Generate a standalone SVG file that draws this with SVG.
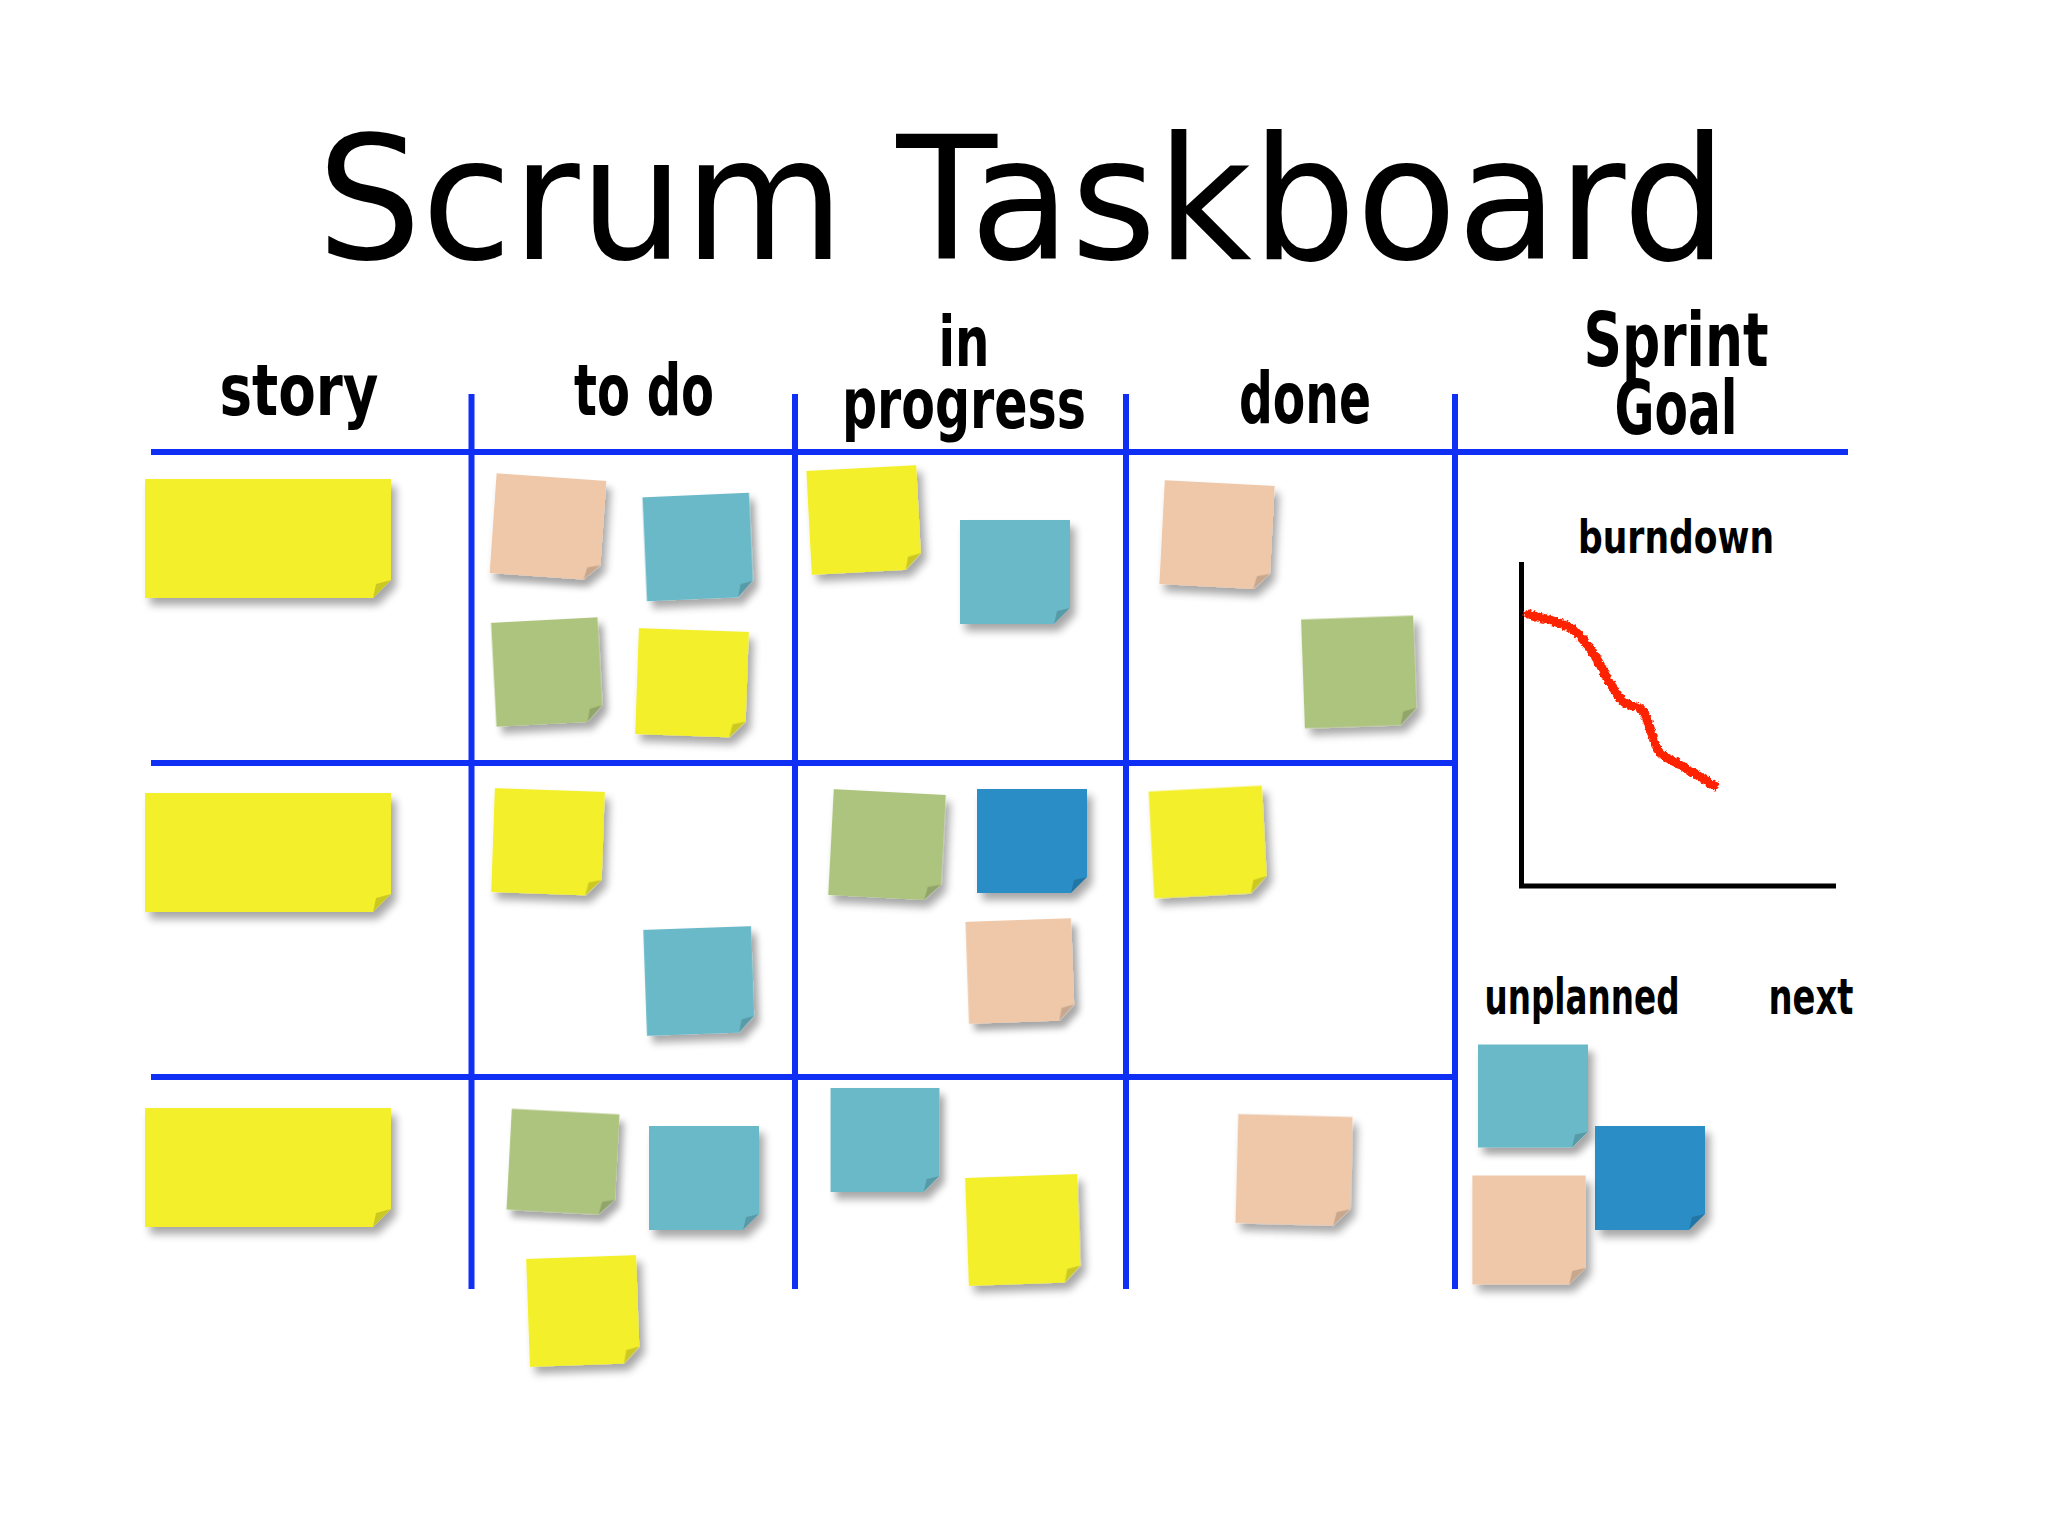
<svg xmlns="http://www.w3.org/2000/svg" xmlns:xlink="http://www.w3.org/1999/xlink" width="2048" height="1536" viewBox="0 0 2048 1536">
<style>
.title{font-family:"DejaVu Sans","Liberation Sans",sans-serif;font-size:172px;fill:#000}
.hand{font-family:"DejaVu Sans Condensed","DejaVu Sans",sans-serif;font-weight:bold;fill:#000;text-anchor:middle}
.grid line{stroke:#0f2ff5;stroke-width:6;stroke-linecap:butt}
.axis{stroke:#000;stroke-width:5;fill:none}
.note{filter:url(#sh)}
.y{fill:#f3ef2c}.pe{fill:#efc8a9}.te{fill:#6bb9c9}.gr{fill:#adc47e}.db{fill:#2a8dc6}
.curl{fill:#000;fill-opacity:0.16}
</style>
<defs>
<filter id="sh" x="-20%" y="-20%" width="150%" height="150%">
<feGaussianBlur in="SourceAlpha" stdDeviation="4"/>
<feOffset dx="5" dy="7" result="b"/>
<feComponentTransfer><feFuncA type="linear" slope="0.35"/></feComponentTransfer>
<feMerge><feMergeNode/><feMergeNode in="SourceGraphic"/></feMerge>
</filter>
<filter id="rough" x="-10%" y="-10%" width="120%" height="120%">
<feTurbulence type="fractalNoise" baseFrequency="0.35" numOctaves="2" seed="3"/>
<feDisplacementMap in="SourceGraphic" scale="5" xChannelSelector="R" yChannelSelector="G"/>
</filter>
<path id="sq" d="M-55,-52 H55 V36 L39,52 H-55 Z"/>
<path id="sqc" d="M55,36 L39,52 L42,39 Z"/>
<path id="st" d="M0,0 H246 V101 L228,119 H0 Z"/>
<path id="stc" d="M246,101 L228,119 L231,105 Z"/>
</defs>
<rect width="2048" height="1536" fill="#fff"/>

<text class="title" x="1022" y="259" text-anchor="middle" textLength="1410" lengthAdjust="spacingAndGlyphs">Scrum Taskboard</text>

<g id="headers">
<text class="hand" x="299" y="415" font-size="72" textLength="159" lengthAdjust="spacingAndGlyphs">story</text>
<text class="hand" x="644" y="415" font-size="72" textLength="140" lengthAdjust="spacingAndGlyphs">to do</text>
<text class="hand" x="964" y="366" font-size="70" textLength="51" lengthAdjust="spacingAndGlyphs">in</text>
<text class="hand" x="964" y="428" font-size="70" textLength="244" lengthAdjust="spacingAndGlyphs">progress</text>
<text class="hand" x="1305" y="423" font-size="72" textLength="132" lengthAdjust="spacingAndGlyphs">done</text>
<text class="hand" x="1676" y="366" font-size="74" textLength="185" lengthAdjust="spacingAndGlyphs">Sprint</text>
<text class="hand" x="1676" y="434" font-size="74" textLength="123" lengthAdjust="spacingAndGlyphs">Goal</text>
</g>

<g id="grid" class="grid">
<line x1="151" y1="452" x2="1848" y2="452"/>
<line x1="151" y1="763" x2="1458" y2="763"/>
<line x1="151" y1="1077" x2="1458" y2="1077"/>
<line x1="471.5" y1="394" x2="471.5" y2="1289"/>
<line x1="795" y1="394" x2="795" y2="1289"/>
<line x1="1126" y1="394" x2="1126" y2="1289"/>
<line x1="1455" y1="394" x2="1455" y2="1289"/>
</g>

<g id="story1" class="note y" transform="translate(145 479)"><use href="#st"/><use href="#stc" class="curl"/></g>
<g id="story2" class="note y" transform="translate(145 793)"><use href="#st"/><use href="#stc" class="curl"/></g>
<g id="story3" class="note y" transform="translate(145 1108)"><use href="#st"/><use href="#stc" class="curl"/></g>

<g id="n4" class="note pe" transform="translate(548 527) rotate(4) scale(1 0.96)"><use href="#sq"/><use href="#sqc" class="curl"/></g>
<g id="n5" class="note te" transform="translate(698 547) rotate(-2.5) scale(0.97 1)"><use href="#sq"/><use href="#sqc" class="curl"/></g>
<g id="n6" class="note gr" transform="translate(547 672) rotate(-3) scale(0.97 1)"><use href="#sq"/><use href="#sqc" class="curl"/></g>
<g id="n7" class="note y" transform="translate(692 683) rotate(2) scale(1 1.02)"><use href="#sq"/><use href="#sqc" class="curl"/></g>
<g id="n8" class="note y" transform="translate(864 520) rotate(-3)"><use href="#sq"/><use href="#sqc" class="curl"/></g>
<g id="n9" class="note te" transform="translate(1015 572)"><use href="#sq"/><use href="#sqc" class="curl"/></g>
<g id="n10" class="note pe" transform="translate(1217 535) rotate(3)"><use href="#sq"/><use href="#sqc" class="curl"/></g>
<g id="n11" class="note gr" transform="translate(1359 672) rotate(-2) scale(1.02 1.05)"><use href="#sq"/><use href="#sqc" class="curl"/></g>
<g id="n12" class="note y" transform="translate(548 842) rotate(2)"><use href="#sq"/><use href="#sqc" class="curl"/></g>
<g id="n13" class="note te" transform="translate(699 981) rotate(-2) scale(0.98 1.02)"><use href="#sq"/><use href="#sqc" class="curl"/></g>
<g id="n14" class="note gr" transform="translate(887 845) rotate(3) scale(1.02 1.02)"><use href="#sq"/><use href="#sqc" class="curl"/></g>
<g id="n15" class="note db" transform="translate(1032 841)"><use href="#sq"/><use href="#sqc" class="curl"/></g>
<g id="n16" class="note pe" transform="translate(1020 971) rotate(-2) scale(0.96 0.98)"><use href="#sq"/><use href="#sqc" class="curl"/></g>
<g id="n17" class="note y" transform="translate(1208 842) rotate(-3) scale(1.03 1.03)"><use href="#sq"/><use href="#sqc" class="curl"/></g>
<g id="n18" class="note gr" transform="translate(563 1162) rotate(3) scale(0.98 0.97)"><use href="#sq"/><use href="#sqc" class="curl"/></g>
<g id="n19" class="note te" transform="translate(704 1178)"><use href="#sq"/><use href="#sqc" class="curl"/></g>
<g id="n20" class="note y" transform="translate(583 1311) rotate(-2) scale(1 1.04)"><use href="#sq"/><use href="#sqc" class="curl"/></g>
<g id="n21" class="note te" transform="translate(885 1140) scale(0.99 1)"><use href="#sq"/><use href="#sqc" class="curl"/></g>
<g id="n22" class="note y" transform="translate(1023 1230) rotate(-2) scale(1.02 1.04)"><use href="#sq"/><use href="#sqc" class="curl"/></g>
<g id="n23" class="note pe" transform="translate(1294 1170) rotate(1.5) scale(1.04 1.05)"><use href="#sq"/><use href="#sqc" class="curl"/></g>

<g id="burndown">
<text class="hand" x="1676" y="553" font-size="46" textLength="196" lengthAdjust="spacingAndGlyphs">burndown</text>
<path class="axis" d="M1521.5,562 V886 H1836"/>
<path d="M1528,614 C1540,618 1548,619 1556,622 C1568,626 1574,629 1580,636 C1588,645 1592,652 1598,661 C1604,670 1606,680 1612,686 C1616,692 1618,698 1624,702 C1630,707 1636,705 1642,710 C1648,716 1648,726 1652,734 C1656,744 1656,752 1664,756 C1672,761 1676,762 1684,767 C1692,772 1700,777 1715,786" fill="none" stroke="#ff2200" stroke-width="9" stroke-linecap="round" stroke-linejoin="round" filter="url(#rough)"/>
</g>

<g id="sprint-extra">
<text class="hand" x="1582" y="1014" font-size="50" textLength="195" lengthAdjust="spacingAndGlyphs">unplanned</text>
<text class="hand" x="1811" y="1014" font-size="50" textLength="85" lengthAdjust="spacingAndGlyphs">next</text>
</g>
<g id="n24" class="note te" transform="translate(1533 1096) scale(1 0.99)"><use href="#sq"/><use href="#sqc" class="curl"/></g>
<g id="n25" class="note db" transform="translate(1650 1178)"><use href="#sq"/><use href="#sqc" class="curl"/></g>
<g id="n26" class="note pe" transform="translate(1529 1230) scale(1.03 1.05)"><use href="#sq"/><use href="#sqc" class="curl"/></g>
</svg>
